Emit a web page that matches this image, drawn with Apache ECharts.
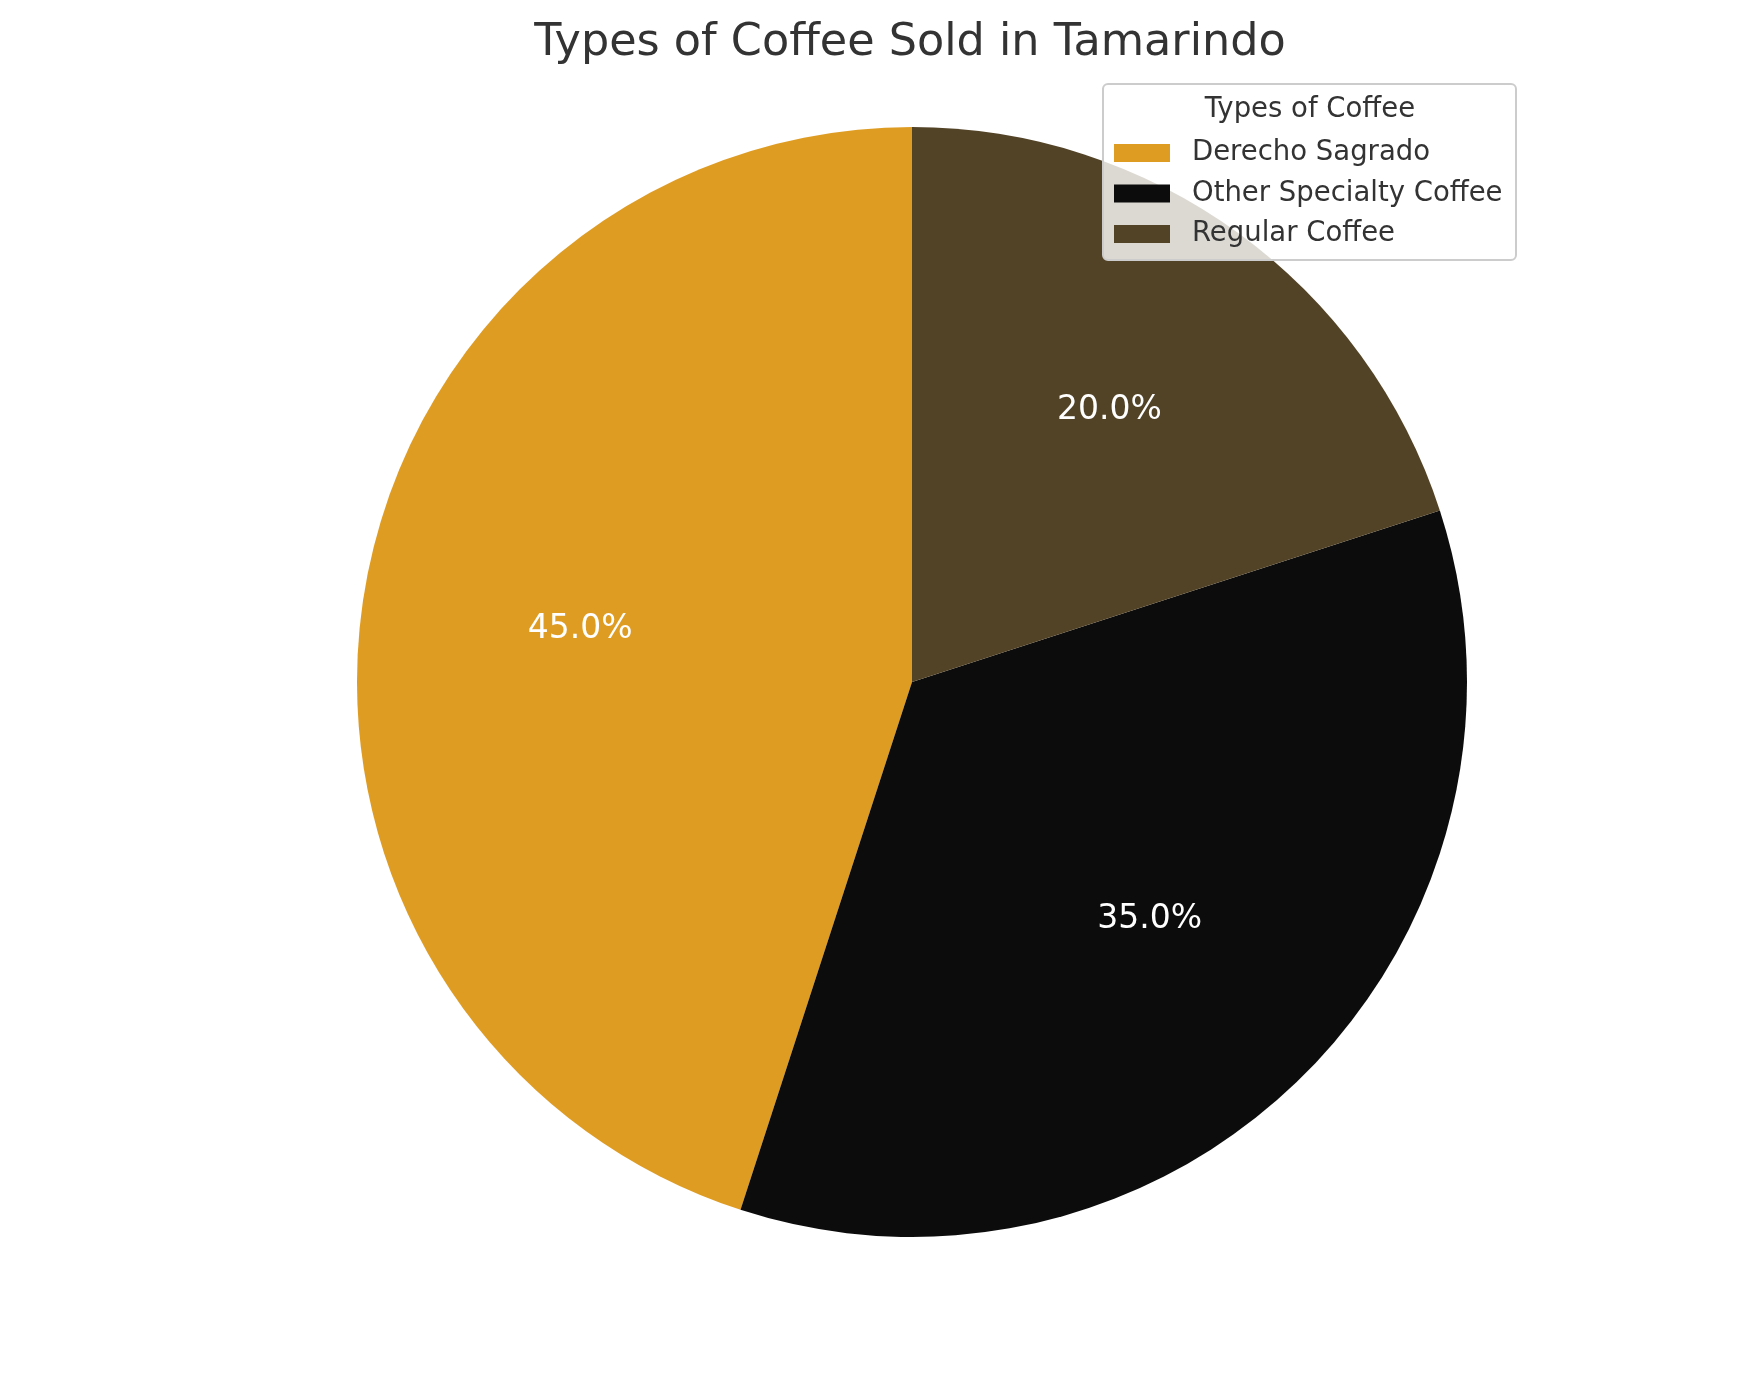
<!DOCTYPE html>
<html>
<head>
<meta charset="utf-8">
<script src="https://cdn.jsdelivr.net/npm/echarts@6/dist/echarts.min.js"></script>
<style>
html,body{margin:0;padding:0;background:#fff;}
#chart{width:1742px;height:1375px;}
</style>
</head>
<body>
<div id="chart"></div>
<script>
const categories = ["Derecho Sagrado", "Other Specialty Coffee", "Regular Coffee"];
const values = [45, 35, 20];
const colors = ["#DF9C23", "#0C0C0C", "#524327"];
const chartTitle = "Types of Coffee Sold in Tamarindo";
const legendTitle = "Types of Coffee";

const FONT = "DejaVu Sans";
const data = categories.map((c, i) => ({ name: c, value: values[i], itemStyle: { color: colors[i] } }));
const total = values.reduce((a, b) => a + b, 0);

const chart = echarts.init(document.getElementById('chart'), null, { renderer: 'canvas' });
chart.setOption({
  animation: false,
  backgroundColor: '#ffffff',
  title: {
    text: chartTitle,
    left: 905,
    textAlign: 'center',
    top: 16,
    textStyle: { fontFamily: FONT, fontSize: 44.5, fontWeight: 'normal', color: '#333333' }
  },
  graphic: [
    {
      type: 'rect', z: 100,
      shape: { x: 1103, y: 84, width: 413, height: 176, r: 5 },
      style: { fill: 'rgba(255,255,255,0.8)', stroke: '#cccccc', lineWidth: 2 }
    },
    {
      type: 'text', z: 101,
      x: 1310, y: 110,
      style: { text: legendTitle, fontFamily: FONT, fontSize: 27.5, fill: '#333333', align: 'center', verticalAlign: 'middle' }
    }
  ],
  legend: {
    orient: 'vertical',
    left: 1114,
    top: 139,
    z: 102,
    padding: 0,
    icon: 'rect',
    itemWidth: 56,
    itemHeight: 18,
    itemGap: 12.5,
    data: categories,
    textStyle: { fontFamily: FONT, fontSize: 27.5, color: '#333333', lineHeight: 25, padding: [0, 0, 0, 17] }
  },
  series: [
    {
      type: 'pie',
      center: [912, 682],
      radius: [0, 555],
      startAngle: 90,
      clockwise: false,
      silent: true,
      label: { show: false },
      labelLine: { show: false },
      itemStyle: { borderWidth: 0 },
      data: data
    },
    {
      type: 'pie',
      center: [912, 682],
      radius: [111, 555],
      startAngle: 90,
      clockwise: false,
      silent: true,
      z: 3,
      itemStyle: { color: 'rgba(0,0,0,0)', borderWidth: 0 },
      label: {
        show: true,
        position: 'inside',
        fontFamily: FONT,
        fontSize: 33,
        color: '#ffffff',
        padding: [10, 0, 0, 0],
        formatter: p => (p.value / total * 100).toFixed(1) + '%'
      },
      labelLine: { show: false },
      legendHoverLink: false,
      data: categories.map((c, i) => ({ name: c, value: values[i] }))
    }
  ]
});
</script>
</body>
</html>
